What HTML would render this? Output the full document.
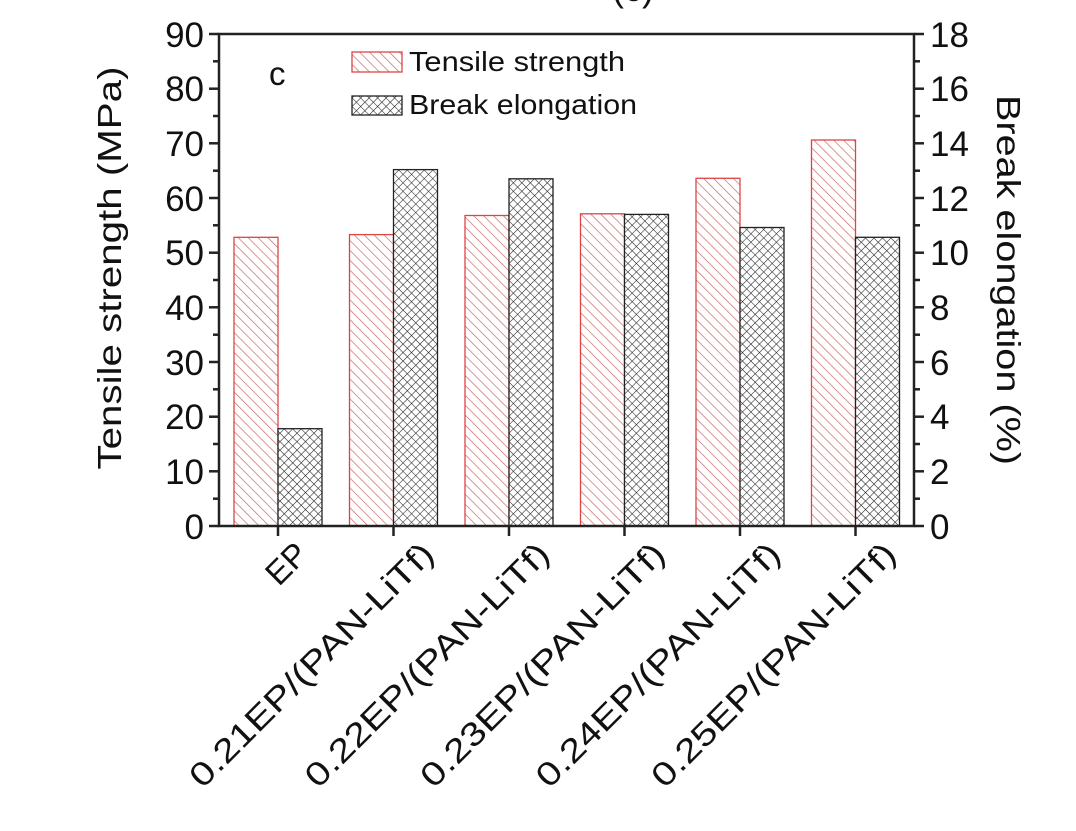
<!DOCTYPE html>
<html><head><meta charset="utf-8"><style>
html,body{margin:0;padding:0;background:#fff;}
svg{display:block;}
text{font-family:"Liberation Sans",sans-serif;fill:#111;}
</style></head><body>
<svg width="1076" height="831" viewBox="0 0 1076 831" xmlns="http://www.w3.org/2000/svg">
<defs>
<pattern id="red" patternUnits="userSpaceOnUse" width="7" height="7" patternTransform="rotate(-45)">
<rect width="7" height="7" fill="#fff"/>
<line x1="0" y1="0" x2="0" y2="7" stroke="#c86a6a" stroke-width="1.4"/>
</pattern>
<pattern id="blk" patternUnits="userSpaceOnUse" width="6" height="6" patternTransform="rotate(45)">
<rect width="6" height="6" fill="#fff"/>
<line x1="0" y1="0" x2="0" y2="6" stroke="#222" stroke-width="1.1"/>
<line x1="0" y1="0" x2="6" y2="0" stroke="#222" stroke-width="1.1"/>
</pattern>
</defs>
<text x="612" y="1" font-size="36">(c)</text>
<g stroke-width="1.3">
<rect x="234" y="237.3" width="44" height="288.7" fill="url(#red)" stroke="#d44"/>
<rect x="278" y="428.7" width="44" height="97.3" fill="url(#blk)" stroke="#222"/>
<rect x="349.5" y="234.6" width="44" height="291.4" fill="url(#red)" stroke="#d44"/>
<rect x="393.5" y="169.6" width="44" height="356.4" fill="url(#blk)" stroke="#222"/>
<rect x="465" y="215.5" width="44" height="310.5" fill="url(#red)" stroke="#d44"/>
<rect x="509" y="178.8" width="44" height="347.2" fill="url(#blk)" stroke="#222"/>
<rect x="580.5" y="213.8" width="44" height="312.2" fill="url(#red)" stroke="#d44"/>
<rect x="624.5" y="214.4" width="44" height="311.6" fill="url(#blk)" stroke="#222"/>
<rect x="696" y="178.3" width="44" height="347.7" fill="url(#red)" stroke="#d44"/>
<rect x="740" y="227.5" width="44" height="298.5" fill="url(#blk)" stroke="#222"/>
<rect x="811.5" y="140" width="44" height="386" fill="url(#red)" stroke="#d44"/>
<rect x="855.5" y="237.3" width="44" height="288.7" fill="url(#blk)" stroke="#222"/>
</g>
<rect x="219" y="34" width="695" height="492" fill="none" stroke="#222" stroke-width="2.5"/>
<g stroke="#222" stroke-width="2.5">
<line x1="209" y1="526" x2="219" y2="526"/><line x1="213" y1="498.7" x2="219" y2="498.7"/>
<line x1="209" y1="471.3" x2="219" y2="471.3"/><line x1="213" y1="444" x2="219" y2="444"/>
<line x1="209" y1="416.7" x2="219" y2="416.7"/><line x1="213" y1="389.3" x2="219" y2="389.3"/>
<line x1="209" y1="362" x2="219" y2="362"/><line x1="213" y1="334.7" x2="219" y2="334.7"/>
<line x1="209" y1="307.3" x2="219" y2="307.3"/><line x1="213" y1="280" x2="219" y2="280"/>
<line x1="209" y1="252.7" x2="219" y2="252.7"/><line x1="213" y1="225.3" x2="219" y2="225.3"/>
<line x1="209" y1="198" x2="219" y2="198"/><line x1="213" y1="170.7" x2="219" y2="170.7"/>
<line x1="209" y1="143.3" x2="219" y2="143.3"/><line x1="213" y1="116" x2="219" y2="116"/>
<line x1="209" y1="88.7" x2="219" y2="88.7"/><line x1="213" y1="61.3" x2="219" y2="61.3"/>
<line x1="209" y1="34" x2="219" y2="34"/>
<line x1="914" y1="526" x2="924" y2="526"/><line x1="914" y1="498.7" x2="920" y2="498.7"/>
<line x1="914" y1="471.3" x2="924" y2="471.3"/><line x1="914" y1="444" x2="920" y2="444"/>
<line x1="914" y1="416.7" x2="924" y2="416.7"/><line x1="914" y1="389.3" x2="920" y2="389.3"/>
<line x1="914" y1="362" x2="924" y2="362"/><line x1="914" y1="334.7" x2="920" y2="334.7"/>
<line x1="914" y1="307.3" x2="924" y2="307.3"/><line x1="914" y1="280" x2="920" y2="280"/>
<line x1="914" y1="252.7" x2="924" y2="252.7"/><line x1="914" y1="225.3" x2="920" y2="225.3"/>
<line x1="914" y1="198" x2="924" y2="198"/><line x1="914" y1="170.7" x2="920" y2="170.7"/>
<line x1="914" y1="143.3" x2="924" y2="143.3"/><line x1="914" y1="116" x2="920" y2="116"/>
<line x1="914" y1="88.7" x2="924" y2="88.7"/><line x1="914" y1="61.3" x2="920" y2="61.3"/>
<line x1="914" y1="34" x2="924" y2="34"/>
<line x1="278" y1="526" x2="278" y2="536"/><line x1="393.5" y1="526" x2="393.5" y2="536"/>
<line x1="509" y1="526" x2="509" y2="536"/><line x1="624.5" y1="526" x2="624.5" y2="536"/>
<line x1="740" y1="526" x2="740" y2="536"/><line x1="855.5" y1="526" x2="855.5" y2="536"/>
</g>
<g font-size="35" text-anchor="end">
<text x="204" y="539">0</text><text x="204" y="484">10</text><text x="204" y="429">20</text>
<text x="204" y="375">30</text><text x="204" y="320">40</text><text x="204" y="265">50</text>
<text x="204" y="211">60</text><text x="204" y="156">70</text><text x="204" y="101">80</text>
<text x="204" y="47">90</text>
</g>
<g font-size="35">
<text x="930" y="539">0</text><text x="930" y="484">2</text><text x="930" y="429">4</text>
<text x="930" y="375">6</text><text x="930" y="320">8</text><text x="930" y="265">10</text>
<text x="930" y="211">12</text><text x="930" y="156">14</text><text x="930" y="101">16</text>
<text x="930" y="47">18</text>
</g>
<text transform="translate(121,268) rotate(-90)" font-size="33" text-anchor="middle" textLength="403" lengthAdjust="spacingAndGlyphs">Tensile strength (MPa)</text>
<text transform="translate(997,280) rotate(90)" font-size="33" text-anchor="middle" textLength="370" lengthAdjust="spacingAndGlyphs">Break elongation (%)</text>
<rect x="352" y="52" width="50" height="20" fill="url(#red)" stroke="#d44" stroke-width="1.3"/>
<rect x="352" y="96" width="50" height="19" fill="url(#blk)" stroke="#222" stroke-width="1.3"/>
<text x="409" y="71" font-size="28" textLength="216" lengthAdjust="spacingAndGlyphs">Tensile strength</text>
<text x="409" y="114" font-size="28" textLength="228" lengthAdjust="spacingAndGlyphs">Break elongation</text>
<text x="269" y="85" font-size="33">c</text>
<g font-size="33" text-anchor="end">
<text transform="translate(310,556) rotate(-45)">EP</text>
<text transform="translate(436,556) rotate(-45)" textLength="330" lengthAdjust="spacingAndGlyphs">0.21EP/(PAN-LiTf)</text>
<text transform="translate(551.5,556) rotate(-45)" textLength="330" lengthAdjust="spacingAndGlyphs">0.22EP/(PAN-LiTf)</text>
<text transform="translate(667,556) rotate(-45)" textLength="330" lengthAdjust="spacingAndGlyphs">0.23EP/(PAN-LiTf)</text>
<text transform="translate(782.5,556) rotate(-45)" textLength="330" lengthAdjust="spacingAndGlyphs">0.24EP/(PAN-LiTf)</text>
<text transform="translate(898,556) rotate(-45)" textLength="330" lengthAdjust="spacingAndGlyphs">0.25EP/(PAN-LiTf)</text>
</g>
</svg>
</body></html>
